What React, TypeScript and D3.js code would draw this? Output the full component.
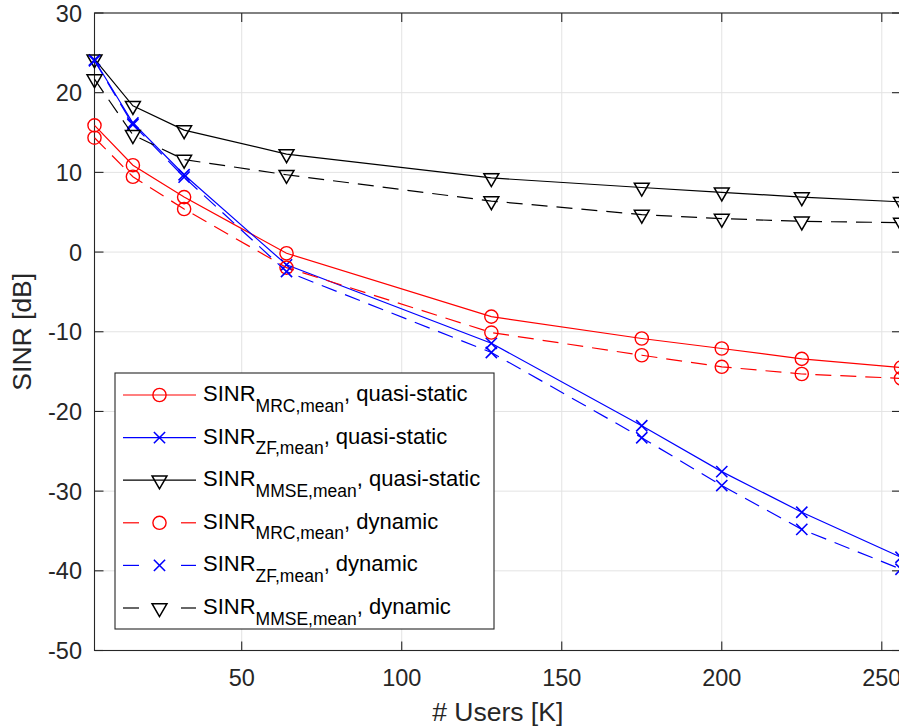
import React from "react";
import * as d3 from "d3";

const xUsers = [4, 16, 32, 64, 128, 175, 200, 225, 256];
const mrcQuasi = [15.9, 10.9, 6.9, -0.15, -8.1, -10.85, -12.1, -13.4, -14.5];
const zfQuasi = [24.1, 16.2, 9.7, -1.6, -11.45, -21.8, -27.55, -32.65, -38.3];
const mmseQuasi = [24.2, 18.35, 15.3, 12.3, 9.3, 8.1, 7.5, 6.9, 6.3];
const mrcDyn = [14.35, 9.45, 5.4, -1.95, -10.1, -12.95, -14.4, -15.3, -15.85];
const zfDyn = [24.0, 16.0, 9.4, -2.45, -12.6, -23.3, -29.3, -34.8, -39.8];
const mmseDyn = [21.7, 14.7, 11.6, 9.7, 6.4, 4.7, 4.2, 3.85, 3.7];

const xTicks = [50, 100, 150, 200, 250];
const yTicks = [-50, -40, -30, -20, -10, 0, 10, 20, 30];

type Marker = "circle" | "x" | "tri";
interface Series {
  values: number[];
  color: string;
  dashed: boolean;
  marker: Marker;
  sub: string;
  suffix: string;
}

const series: Series[] = [
  { values: mrcQuasi, color: "#ff0000", dashed: false, marker: "circle", sub: "MRC,mean", suffix: ", quasi-static" },
  { values: zfQuasi, color: "#0000ff", dashed: false, marker: "x", sub: "ZF,mean", suffix: ", quasi-static" },
  { values: mmseQuasi, color: "#000000", dashed: false, marker: "tri", sub: "MMSE,mean", suffix: ", quasi-static" },
  { values: mrcDyn, color: "#ff0000", dashed: true, marker: "circle", sub: "MRC,mean", suffix: ", dynamic" },
  { values: zfDyn, color: "#0000ff", dashed: true, marker: "x", sub: "ZF,mean", suffix: ", dynamic" },
  { values: mmseDyn, color: "#000000", dashed: true, marker: "tri", sub: "MMSE,mean", suffix: ", dynamic" },
];

const FONT = "'Liberation Sans', Arial, Helvetica, sans-serif";
const AX = "#262626";
const DASH = "16 9";

function MarkerShape({ type, cx, cy, color }: { type: Marker; cx: number; cy: number; color: string }) {
  if (type === "circle") {
    return <circle cx={cx} cy={cy} r={6.6} fill="none" stroke={color} strokeWidth={1.4} />;
  }
  if (type === "x") {
    const s = 5.6;
    return (
      <path
        d={`M${cx - s},${cy - s}L${cx + s},${cy + s}M${cx - s},${cy + s}L${cx + s},${cy - s}`}
        stroke={color}
        strokeWidth={1.6}
        fill="none"
      />
    );
  }
  const r = 8.6;
  return (
    <path
      d={`M${cx},${cy + r}L${cx - 0.866 * r},${cy - 0.5 * r}L${cx + 0.866 * r},${cy - 0.5 * r}Z`}
      stroke={color}
      strokeWidth={1.5}
      fill="none"
      strokeLinejoin="miter"
    />
  );
}

export default function App() {
  const W = 899;
  const H = 728;
  const left = 94.5;
  const right = 901;
  const top = 13;
  const bottom = 650.5;
  const x = d3.scaleLinear().domain([4, 256]).range([left, right]);
  const y = d3.scaleLinear().domain([-50, 30]).range([bottom, top]);
  const line = d3
    .line<number>()
    .x((_, i) => x(xUsers[i]))
    .y((d) => y(d));

  const tickLen = 9;
  const legX = 115, legY = 373, legW = 379, legH = 256;
  const rowY0 = 395, rowStep = 42.6;

  return (
    <svg
      width={W}
      height={H}
      style={{ position: "absolute", left: 0, top: 0, display: "block", background: "#fff" }}
      fontFamily={FONT}
    >
      <rect x={0} y={0} width={W} height={H} fill="#fff" />
      {/* grid */}
      <g stroke="#e3e3e3" strokeWidth={1}>
        {xTicks.map((t) => (
          <line key={"gx" + t} x1={x(t)} x2={x(t)} y1={top} y2={bottom} />
        ))}
        {yTicks.map((t) => (
          <line key={"gy" + t} x1={left} x2={right} y1={y(t)} y2={y(t)} />
        ))}
      </g>
      {/* axes box */}
      <rect x={left} y={top} width={right - left} height={bottom - top} fill="none" stroke={AX} strokeWidth={1.1} />
      <g stroke={AX} strokeWidth={1.1}>
        {xTicks.map((t) => (
          <g key={"tx" + t}>
            <line x1={x(t)} x2={x(t)} y1={bottom} y2={bottom - tickLen} />
            <line x1={x(t)} x2={x(t)} y1={top} y2={top + tickLen} />
          </g>
        ))}
        {yTicks.map((t) => (
          <g key={"ty" + t}>
            <line x1={left} x2={left + tickLen} y1={y(t)} y2={y(t)} />
            <line x1={right} x2={right - tickLen} y1={y(t)} y2={y(t)} />
          </g>
        ))}
      </g>
      {/* tick labels */}
      <g fill={AX} fontSize={23.5}>
        {xTicks.map((t) => (
          <text key={"lx" + t} x={x(t)} y={686} textAnchor="middle">
            {t}
          </text>
        ))}
        {yTicks.map((t) => (
          <text key={"ly" + t} x={82} y={y(t) + 8.5} textAnchor="end">
            {t}
          </text>
        ))}
      </g>
      {/* axis labels */}
      <text x={(left + right) / 2} y={721} textAnchor="middle" fontSize={26.5} fill={AX}>
        # Users [K]
      </text>
      <text
        transform={`translate(31, ${(top + bottom) / 2}) rotate(-90)`}
        textAnchor="middle"
        fontSize={26.5}
        fill={AX}
      >
        SINR [dB]
      </text>
      {/* series */}
      {series.map((s, si) => (
        <g key={"s" + si}>
          <path
            d={line(s.values) || ""}
            fill="none"
            stroke={s.color}
            strokeWidth={1.2}
            strokeDasharray={s.dashed ? DASH : undefined}
          />
          {s.values.map((v, i) => (
            <MarkerShape key={i} type={s.marker} cx={x(xUsers[i])} cy={y(v)} color={s.color} />
          ))}
        </g>
      ))}
      {/* legend */}
      <rect x={legX} y={legY} width={legW} height={legH} fill="#fff" stroke={AX} strokeWidth={1.1} />
      {series.map((s, si) => {
        const ry = rowY0 + si * rowStep;
        return (
          <g key={"leg" + si}>
            {s.dashed ? (
              <g stroke={s.color} strokeWidth={1.2}>
                <line x1={123} x2={139} y1={ry} y2={ry} />
                <line x1={181} x2={196} y1={ry} y2={ry} />
              </g>
            ) : (
              <line x1={123} x2={196} y1={ry} y2={ry} stroke={s.color} strokeWidth={1.2} />
            )}
            <MarkerShape type={s.marker} cx={159.5} cy={ry} color={s.color} />
            <text x={203} y={ry + 6} fontSize={22} fill="#000">
              SINR
              <tspan dy={10.5} fontSize={17.5}>
                {s.sub}
              </tspan>
              <tspan dy={-10.5} fontSize={22}>
                {s.suffix}
              </tspan>
            </text>
          </g>
        );
      })}
    </svg>
  );
}
